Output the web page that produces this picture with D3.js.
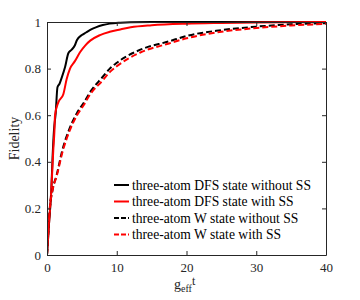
<!DOCTYPE html>
<html>
<head>
<meta charset="utf-8">
<script src="https://cdn.jsdelivr.net/npm/d3@7"></script>
<style>
  body { margin: 0; background: #fff; }
  svg text { font-family: "Liberation Serif", "DejaVu Serif", serif; }
</style>
</head>
<body>
<svg id="chart" width="360" height="300"></svg>
<script>
// fidelity curves (t = g_eff t, f = fidelity)
const dfsNoSS_t = [0, 0.3, 0.62, 0.8, 1.0, 1.25, 1.5, 1.8, 2.1, 2.6, 3.06, 3.5, 4.0, 4.3, 5.0, 5.6, 6.2, 7.0, 8.0, 9.0, 10.5, 12, 15, 20, 30, 40];
const dfsNoSS_f = [0, 0.14, 0.28, 0.42, 0.536, 0.61, 0.72, 0.735, 0.76, 0.808, 0.866, 0.88, 0.9, 0.923, 0.944, 0.955, 0.966, 0.977, 0.987, 0.993, 0.997, 0.999, 1, 1, 1, 1];

const dfsSS_t = [0, 0.3, 0.62, 0.9, 1.07, 1.15, 1.62, 2.34, 2.82, 3.3, 4.0, 4.73, 5.5, 6.2, 7.6, 9.0, 10.5, 12, 15, 20, 25, 30, 40];
const dfsSS_f = [0, 0.14, 0.28, 0.45, 0.536, 0.6, 0.655, 0.69, 0.755, 0.8, 0.832, 0.87, 0.9, 0.92, 0.944, 0.958, 0.968, 0.977, 0.986, 0.993, 0.996, 0.998, 1];

const wNoSS_t = [0, 0.4, 0.8, 1.4, 2.2, 3.2, 4.3, 5.3, 6.2, 8, 9, 10, 13.3, 17.5, 20, 25, 30, 35, 40];
const wNoSS_f = [0, 0.2, 0.28, 0.345, 0.45, 0.54, 0.61, 0.655, 0.7, 0.765, 0.8, 0.825, 0.88, 0.917, 0.94, 0.965, 0.98, 0.99, 0.995];

const wSS_t = [0, 0.4, 0.8, 1.4, 2.2, 3.2, 4.3, 5.3, 6.2, 8, 9, 10, 13.3, 17.5, 20, 25, 30, 35, 40];
const wSS_f = [0, 0.2, 0.28, 0.34, 0.44, 0.53, 0.6, 0.645, 0.69, 0.75, 0.785, 0.81, 0.868, 0.908, 0.93, 0.958, 0.974, 0.985, 0.992];

const legendLabels = [
  "three-atom DFS state without SS",
  "three-atom DFS state with SS",
  "three-atom W state without SS",
  "three-atom W state with SS"
];
const xTicks = [0, 10, 20, 30, 40];
const yTicks = [0, 0.2, 0.4, 0.6, 0.8, 1];

const axisColor = "#262626";
const serif = "Liberation Serif";
const margin = { left: 47, top: 22, right: 34, bottom: 45 };
const width = 360, height = 300;

const svg = d3.select("#chart");

const x = d3.scaleLinear().domain([0, 40]).range([margin.left, width - margin.right]);
const y = d3.scaleLinear().domain([0, 1]).range([height - margin.bottom, margin.top]);

const fmt = (d) => String(+d.toFixed(1));

// series to draw, later ones on top
const series = [
  { t: dfsNoSS_t, f: dfsNoSS_f, color: "#000", dash: null },
  { t: dfsSS_t, f: dfsSS_f, color: "#ff0000", dash: null },
  { t: wNoSS_t, f: wNoSS_f, color: "#000", dash: "6,3" },
  { t: wSS_t, f: wSS_f, color: "#ff0000", dash: "6,3" }
];

const line = d3.line()
  .x((d) => x(d[0]))
  .y((d) => y(d[1]))
  .curve(d3.curveMonotoneX);

svg.append("clipPath").attr("id", "plotclip")
  .append("rect")
  .attr("x", x(0)).attr("y", y(1) - 2)
  .attr("width", x(40) - x(0)).attr("height", y(0) - y(1) + 2);

const plot = svg.append("g").attr("clip-path", "url(#plotclip)");

series.forEach((s) => {
  plot.append("path")
    .datum(s.t.map((t, i) => [t, s.f[i]]))
    .attr("fill", "none")
    .attr("stroke", s.color)
    .attr("stroke-width", 2)
    .attr("stroke-dasharray", s.dash)
    .attr("d", line);
});

// axes, ticks pointing inwards like matlab
function styleAxis(g) {
  g.attr("font-family", serif).attr("font-size", 13);
  g.select(".domain").attr("stroke", axisColor);
  g.selectAll(".tick line").attr("stroke", axisColor);
  g.selectAll(".tick text").attr("fill", axisColor);
}

svg.append("g")
  .attr("transform", `translate(0,${y(0)})`)
  .call(d3.axisBottom(x).tickValues(xTicks).tickSize(-4).tickSizeOuter(0).tickPadding(8).tickFormat(fmt))
  .call(styleAxis);

svg.append("g")
  .attr("transform", `translate(${x(0)},0)`)
  .call(d3.axisLeft(y).tickValues(yTicks).tickSize(-4).tickSizeOuter(0).tickPadding(6).tickFormat(fmt))
  .call(styleAxis);

svg.append("g")
  .attr("transform", `translate(0,${y(1)})`)
  .call(d3.axisTop(x).tickValues(xTicks).tickSize(-4).tickSizeOuter(0).tickFormat(""))
  .call(styleAxis);

svg.append("g")
  .attr("transform", `translate(${x(40)},0)`)
  .call(d3.axisRight(y).tickValues(yTicks).tickSize(-4).tickSizeOuter(0).tickFormat(""))
  .call(styleAxis);

// axis labels
svg.append("text")
  .attr("transform", `translate(19,${(y(0) + y(1)) / 2}) rotate(-90)`)
  .attr("text-anchor", "middle")
  .attr("fill", axisColor)
  .attr("font-size", 14)
  .text("Fidelity");

const xl = svg.append("text")
  .attr("x", 174)
  .attr("y", 289)
  .attr("fill", axisColor)
  .attr("font-size", 14);
xl.append("tspan").text("g");
xl.append("tspan").attr("dy", 3).attr("font-size", 10).text("eff");
xl.append("tspan").attr("dy", -7).attr("font-size", 12).text("t");

// legend
const legend = svg.append("g").attr("transform", "translate(114,185)");
legendLabels.forEach((label, i) => {
  const row = legend.append("g").attr("transform", `translate(0,${i * 16.5})`);
  row.append("line")
    .attr("x1", 0).attr("x2", 15)
    .attr("stroke", series[i].color)
    .attr("stroke-width", 2)
    .attr("stroke-dasharray", series[i].dash ? "5,2" : null);
  row.append("text")
    .attr("x", 18)
    .attr("y", 4.5)
    .attr("fill", "#000")
    .attr("font-size", 13.6)
    .text(label);
});
</script>
</body>
</html>
